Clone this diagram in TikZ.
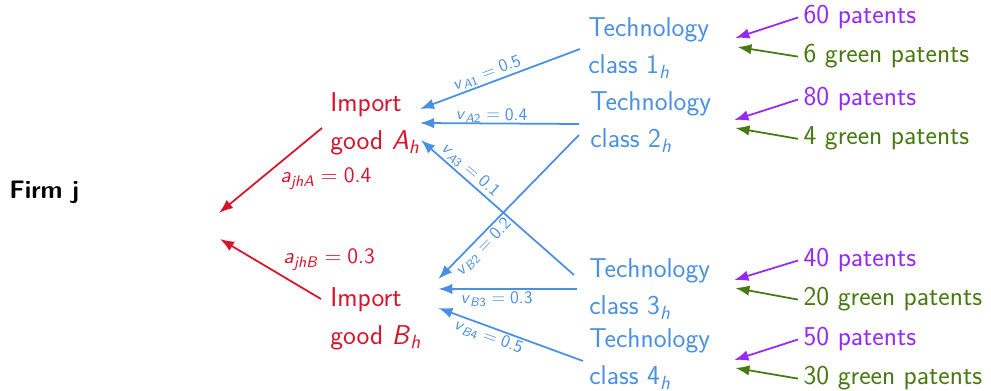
\documentclass[tikz,border=0pt]{standalone}
\usetikzlibrary{arrows.meta, calc}

\definecolor{impred}{RGB}{214,20,44}
\definecolor{techblue}{RGB}{74,144,226}
\definecolor{patpurple}{RGB}{150,40,250}
\definecolor{patgreen}{RGB}{72,122,18}

% sans italic symbols with subscripts
\newcommand{\symsub}[2]{\textit{#1}\textsubscript{#2}}
\newcommand{\eqs}{\hspace{0.28em}=\hspace{0.28em}}

\begin{document}
\begin{tikzpicture}[x=0.02cm, y=-0.02cm,
    big/.style={font=\fontsize{15.5}{21.3}\selectfont\sffamily, inner sep=0pt, align=left, anchor=west},
    good/.style={big, text=impred},
    tech/.style={big, text=techblue},
    pat/.style={font=\fontsize{15.5}{21.3}\selectfont\sffamily, inner sep=3pt, anchor=base west},
    share/.style={font=\fontsize{12.5}{15}\selectfont\sffamily, text=impred, inner sep=0pt, anchor=base west},
    weight/.style={font=\normalsize\sffamily, text=techblue, sloped, inner sep=1pt},
    tip/.style={line width=1pt, -{Latex[length=8pt,width=6pt]}},
    redarrow/.style={tip, draw=impred},
    bluearrow/.style={tip, draw=techblue},
    purplearrow/.style={tip, draw=patpurple},
    greenarrow/.style={tip, draw=patgreen}
  ]
  \useasboundingbox (0,0) rectangle (991,391);

  % firm and import goods
  \node[big, anchor=base west, font=\fontsize{14.4}{21.3}\selectfont\sffamily\bfseries] (firm) at (9,199) {Firm j};
  \coordinate (firmA) at (219,213);
  \coordinate (firmB) at (220,239);
  \node[good] (impA) at (330,124) {Import\\good \symsub{A}{\textit{h}}};
  \node[good] (impB) at (330,319) {Import\\good \symsub{B}{\textit{h}}};

  % technology classes
  \node[tech] (tech1) at (588,48) {Technology\\class 1\textsubscript{\textit{h}}};
  \node[tech] (tech2) at (590,122) {Technology\\class 2\textsubscript{\textit{h}}};
  \node[tech] (tech3) at (589,289) {Technology\\class 3\textsubscript{\textit{h}}};
  \node[tech] (tech4) at (589,359) {Technology\\class 4\textsubscript{\textit{h}}};

  % patents
  \node[pat, text=patpurple] (pat1) at (798,24) {60 patents};
  \node[pat, text=patgreen] (green1) at (798,63) {6 green patents};
  \node[pat, text=patpurple] (pat2) at (798,106) {80 patents};
  \node[pat, text=patgreen] (green2) at (798,145) {4 green patents};
  \node[pat, text=patpurple] (pat3) at (798,267) {40 patents};
  \node[pat, text=patgreen] (green3) at (798,306) {20 green patents};
  \node[pat, text=patpurple] (pat4) at (798,346) {50 patents};
  \node[pat, text=patgreen] (green4) at (798,385) {30 green patents};

  % import shares
  \draw[redarrow] ($(impA.west)+(-8,4)$) -- (firmA);
  \draw[redarrow] ($(impB.west)+(-9,-20)$) -- (firmB);
  \node[share] (shareA) at (280,183) {\symsub{a}{\textit{jhA}}\eqs 0.4};
  \node[share] (shareB) at (283,264) {\symsub{a}{\textit{jhB}}\eqs 0.3};

  % technology weights
  \draw[bluearrow] ($(tech1.west)+(-8,1)$) -- node[weight, above, pos=0.56] {\symsub{v}{\textit{A}1}\eqs 0.5} ($(impA.east)+(0,-15)$);
  \draw[bluearrow] ($(tech2.west)+(-11,2)$) -- node[weight, above, inner sep=0pt, pos=0.55] {\symsub{v}{\textit{A}2}\eqs 0.4} ($(impA.east)+(0,-1)$);
  \draw[bluearrow] ($(tech3.west)+(-15,-14)$) -- node[weight, above, pos=0.72] {\symsub{v}{\textit{A}3}\eqs 0.1} ($(impA.east)+(1,16)$);
  \draw[bluearrow] ($(tech2.west)+(-11,13)$) -- node[weight, below, pos=0.73] {\symsub{v}{\textit{B}2}\eqs 0.2} ($(impB.east)+(17,-40)$);
  \draw[bluearrow] ($(tech3.west)+(-12,0)$) -- node[weight, below, pos=0.58] {\symsub{v}{\textit{B}3}\eqs 0.3} ($(impB.east)+(17,-30)$);
  \draw[bluearrow] ($(tech4.west)+(-6,2)$) -- node[weight, below, pos=0.63] {\symsub{v}{\textit{B}4}\eqs 0.5} ($(impB.east)+(17,-11)$);

  % patent counts
  \draw[purplearrow] (pat1.west) -- ($(tech1.east)+(26,-10)$);
  \draw[greenarrow] (green1.west) -- ($(tech1.east)+(28,-1)$);
  \draw[purplearrow] (pat2.west) -- ($(tech2.east)+(23,-2)$);
  \draw[greenarrow] (green2.west) -- ($(tech2.east)+(24,6)$);
  \draw[purplearrow] (pat3.west) -- ($(tech3.east)+(24,-9)$);
  \draw[greenarrow] (green3.west) -- ($(tech3.east)+(25,-1)$);
  \draw[purplearrow] (pat4.west) -- ($(tech4.east)+(24,1)$);
  \draw[greenarrow] (green4.west) -- ($(tech4.east)+(25,9)$);
\end{tikzpicture}
\end{document}
